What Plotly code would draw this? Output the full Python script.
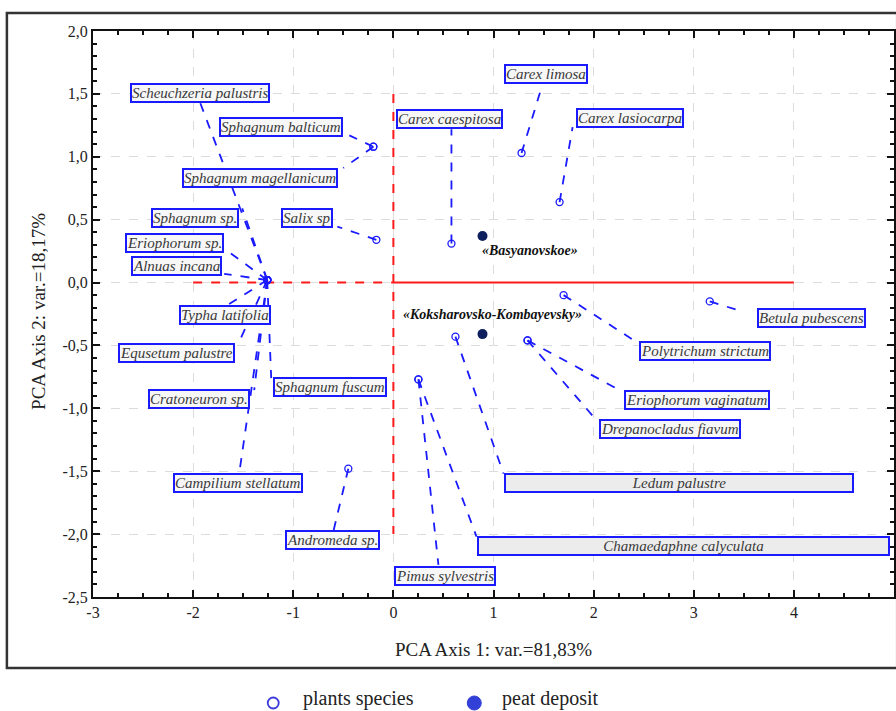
import plotly.graph_objects as go

# ---------------- data ----------------
species = [
    "Scheuchzeria palustris", "Sphagnum balticum", "Sphagnum magellanicum",
    "Sphagnum sp.", "Salix sp", "Eriophorum sp.", "Alnuas incana",
    "Typha latifolia", "Equsetum palustre", "Sphagnum fuscum",
    "Cratoneuron sp.", "Campilium stellatum", "Andromeda sp.",
    "Pimus sylvestris", "Carex caespitosa", "Carex limosa",
    "Carex lasiocarpa", "Betula pubescens", "Polytrichum strictum",
    "Eriophorum vaginatum", "Drepanocladus flavum", "Ledum palustre",
    "Chamaedaphne calyculata",
]
species_label = [
    "Scheuchzeria palustris", "Sphagnum balticum", "Sphagnum magellanicum",
    "Sphagnum sp.", "Salix sp", "Eriophorum sp.", "Alnuas incana",
    "Typha latifolia", "Equsetum palustre", "Sphagnum fuscum",
    "Cratoneuron sp.", "Campilium stellatum", "Andromeda sp.",
    "Pimus sylvestris", "Carex caespitosa", "Carex limosa",
    "Carex lasiocarpa", "Betula pubescens", "Polytrichum strictum",
    "Eriophorum vaginatum", "Drepanocladus fiavum", "Ledum palustre",
    "Chamaedaphne calyculata",
]
axis1 = [-1.26, -0.20, -0.20, -1.26, -0.17, -1.26, -1.26, -1.26, -1.26, -1.26,
         -1.26, -1.26, -0.45, 0.25, 0.58, 1.28, 1.66, 3.16, 1.70, 1.34, 1.34,
         0.62, 0.25]
axis2 = [0.02, 1.08, 1.08, 0.02, 0.34, 0.02, 0.02, 0.02, 0.02, 0.02,
         0.02, 0.02, -1.48, -0.77, 0.31, 1.03, 0.64, -0.15, -0.10, -0.46, -0.46,
         -0.43, -0.77]

deposits = ["«Basyanovskoe»", "«Koksharovsko-Kombayevsky»"]
dep_axis1 = [0.89, 0.89]
dep_axis2 = [0.37, -0.41]

x_ticks = [-3, -2, -1, 0, 1, 2, 3, 4, 5]
x_ticklabels = ["-3", "-2", "-1", "0", "1", "2", "3", "4", "5"]
y_ticks = [2.0, 1.5, 1.0, 0.5, 0.0, -0.5, -1.0, -1.5, -2.0, -2.5]
y_ticklabels = ["2,0", "1,5", "1,0", "0,5", "0,0", "-0,5", "-1,0", "-1,5", "-2,0", "-2,5"]

x_title = "PCA Axis 1: var.=81,83%"
y_title = "PCA Axis 2: var.=18,17%"
legend_names = ["plants species", "peat deposit"]

# ---------------- layout helpers (label placement) ----------------
# label centre (x, y) and connector anchor on the label box (x, y), in axis units
label_pos = {
    "Scheuchzeria palustris": ((-1.93, 1.51), (-1.93, 1.43)),
    "Sphagnum balticum": ((-1.12, 1.235), (-0.44, 1.17)),
    "Sphagnum magellanicum": ((-1.33, 0.835), (-0.50, 0.91)),
    "Sphagnum sp.": ((-1.98, 0.516), (-1.51, 0.59)),
    "Salix sp": ((-0.86, 0.516), (-0.56, 0.445)),
    "Eriophorum sp.": ((-2.19, 0.317), (-1.66, 0.253)),
    "Alnuas incana": ((-2.17, 0.133), (-1.69, 0.069)),
    "Typha latifolia": ((-1.68, -0.258), (-1.67, -0.186)),
    "Equsetum palustre": ((-2.17, -0.561), (-1.55, -0.489)),
    "Sphagnum fuscum": ((-0.63, -0.832), (-1.22, -0.76)),
    "Cratoneuron sp.": ((-1.94, -0.928), (-1.39, -0.856)),
    "Campilium stellatum": ((-1.55, -1.59), (-1.54, -1.519)),
    "Andromeda sp.": ((-0.61, -2.05), (-0.60, -1.98)),
    "Pimus sylvestris": ((0.52, -2.33), (0.45, -2.245)),
    "Carex caespitosa": ((0.56, 1.30), (0.58, 1.218)),
    "Carex limosa": ((1.52, 1.66), (1.49, 1.577)),
    "Carex lasiocarpa": ((2.36, 1.306), (1.79, 1.235)),
    "Betula pubescens": ((4.18, -0.282), (3.50, -0.234)),
    "Polytrichum strictum": ((3.11, -0.545), (2.43, -0.473)),
    "Eriophorum vaginatum": ((3.03, -0.936), (2.28, -0.864)),
    "Drepanocladus flavum": ((2.76, -1.168), (2.03, -1.096)),
    "Ledum palustre": ((2.85, -1.59), (1.10, -1.519)),
    "Chamaedaphne calyculata": ((2.90, -2.093), (0.83, -2.02)),
}
wide_box = {"Ledum palustre": 346, "Chamaedaphne calyculata": 409}
dep_label_pos = [(1.36, 0.253), (0.985, -0.25)]

BLUE = "#1a1aff"
RED = "#ff1a1a"
SERIF = "Liberation Serif, Times New Roman, serif"

fig = go.Figure()

# reference lines (red)
fig.add_trace(go.Scatter(x=[-2, 0], y=[0, 0], mode="lines",
                         line=dict(color=RED, width=2, dash="dash"),
                         showlegend=False, hoverinfo="skip"))
fig.add_trace(go.Scatter(x=[0, 4], y=[0, 0], mode="lines",
                         line=dict(color=RED, width=2),
                         showlegend=False, hoverinfo="skip"))
fig.add_trace(go.Scatter(x=[0, 0], y=[1.5, -2.0], mode="lines",
                         line=dict(color=RED, width=2, dash="dash"),
                         showlegend=False, hoverinfo="skip"))

# connectors
for name, px, py in zip(species, axis1, axis2):
    (_, _), (ax, ay) = label_pos[name]
    fig.add_trace(go.Scatter(x=[px, ax], y=[py, ay], mode="lines",
                             line=dict(color=BLUE, width=1.8, dash="dash"),
                             showlegend=False, hoverinfo="skip"))

# species points
fig.add_trace(go.Scatter(x=axis1, y=axis2, mode="markers", text=species,
                         name=legend_names[0],
                         marker=dict(symbol="circle-open", size=7, color=BLUE,
                                     line=dict(width=1.3, color=BLUE)),
                         showlegend=False))
# deposits
fig.add_trace(go.Scatter(x=dep_axis1, y=dep_axis2, mode="markers", text=deposits,
                         name=legend_names[1],
                         marker=dict(symbol="circle", size=10, color="#0d1f5c"),
                         showlegend=False))

annotations = []
for name, lab in zip(species, species_label):
    (cx, cy), _ = label_pos[name]
    a = dict(x=cx, y=cy, xref="x", yref="y", text=lab, showarrow=False,
             font=dict(family=SERIF, size=15, color="#3a3a3a", style="italic"),
             bordercolor=BLUE, borderwidth=2, borderpad=0,
             bgcolor="#ececec" if name in wide_box else "#f7f7f7",
             xanchor="center", yanchor="middle")
    if name in wide_box:
        a["width"] = wide_box[name]
    annotations.append(a)

for lab, (lx, ly) in zip(deposits, dep_label_pos):
    annotations.append(dict(x=lx, y=ly, xref="x", yref="y", text="<b><i>" + lab + "</i></b>",
                            showarrow=False, xanchor="center", yanchor="middle",
                            font=dict(family=SERIF, size=14, color="#111111")))

annotations.append(dict(x=0.5, y=-0.093, xref="paper", yref="paper", text=x_title,
                        showarrow=False, xanchor="center", yanchor="middle",
                        font=dict(family=SERIF, size=19, color="#222222")))
annotations.append(dict(x=-0.069, y=0.505, xref="paper", yref="paper", text=y_title,
                        showarrow=False, xanchor="center", yanchor="middle", textangle=-90,
                        font=dict(family=SERIF, size=19, color="#222222")))

# manual legend below the frame
leg_y = -0.180
annotations.append(dict(x=0.26, y=leg_y, xref="paper", yref="paper", text=legend_names[0],
                        showarrow=False, xanchor="left", yanchor="middle",
                        font=dict(family=SERIF, size=20, color="#222222")))
annotations.append(dict(x=0.508, y=leg_y, xref="paper", yref="paper", text=legend_names[1],
                        showarrow=False, xanchor="left", yanchor="middle",
                        font=dict(family=SERIF, size=20, color="#222222")))

shapes = [
    dict(type="rect", xref="paper", yref="paper", x0=-0.1075, x1=1.004,
         y0=-0.1254, y1=1.0318, line=dict(color="#333333", width=2.5), layer="below"),
    dict(type="circle", xref="paper", yref="paper", xsizemode="pixel", ysizemode="pixel",
         xanchor=0.225, yanchor=-0.1873, x0=-5.5, x1=5.5, y0=-5.5, y1=5.5,
         line=dict(color="#3a3adb", width=1.8), fillcolor="rgba(0,0,0,0)"),
    dict(type="circle", xref="paper", yref="paper", xsizemode="pixel", ysizemode="pixel",
         xanchor=0.476, yanchor=-0.1873, x0=-7, x1=7, y0=-7, y1=7,
         line=dict(color="#3340d8", width=1), fillcolor="#3340d8"),
]

axis_common = dict(showline=True, linecolor="#111111", linewidth=2, mirror="allticks",
                   ticks="inside", ticklen=7, tickwidth=1.5, tickcolor="#111111",
                   showgrid=True, gridcolor="#dcdcdc", griddash="dash", gridwidth=1,
                   zeroline=False, automargin=False,
                   tickfont=dict(family=SERIF, size=16, color="#222222"))

fig.update_layout(
    width=896, height=711,
    margin=dict(l=93, r=2, t=31, b=114),
    paper_bgcolor="white", plot_bgcolor="white",
    xaxis=dict(range=[-3, 5], tickvals=x_ticks, ticktext=x_ticklabels,
               minor=dict(ticks="inside", dtick=0.25, ticklen=4, tickcolor="#111111",
                          showgrid=False),
               **axis_common),
    yaxis=dict(range=[-2.5, 2.0], tickvals=y_ticks, ticktext=y_ticklabels,
               minor=dict(ticks="inside", dtick=0.1, ticklen=4, tickcolor="#111111",
                          showgrid=False),
               **axis_common),
    annotations=annotations,
    shapes=shapes,
    showlegend=False,
)

fig.write_html("out.html", config={"displayModeBar": False},
               post_script="document.body.style.margin='0';document.body.style.overflow='hidden';")
